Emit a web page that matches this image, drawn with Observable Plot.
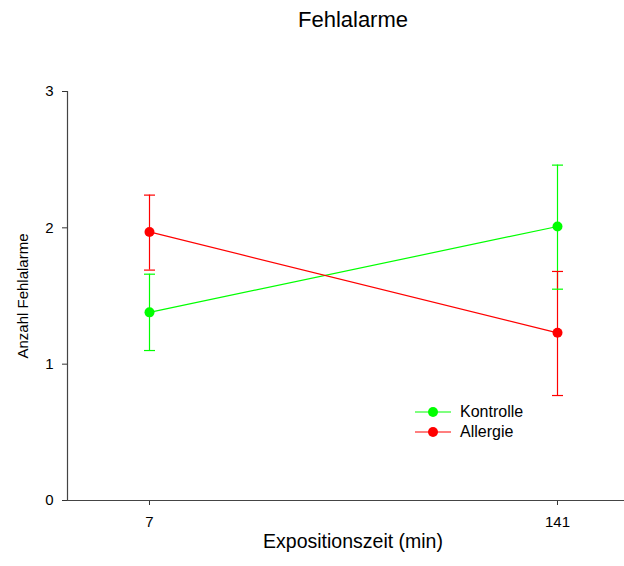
<!DOCTYPE html>
<html>
<head>
<meta charset="utf-8">
<script src="https://cdn.jsdelivr.net/npm/d3@7"></script>
<script src="https://cdn.jsdelivr.net/npm/@observablehq/plot@0.6"></script>
<style>
  html, body { margin: 0; padding: 0; background: #fff; overflow: hidden; }
  body { font-family: "Liberation Sans", Arial, sans-serif; }
  #wrap { position: relative; width: 624px; height: 566px; }
  #title { position: absolute; left: 0; width: 706px; top: 8px; text-align: center; font-size: 22px; line-height: 24px; color: #000; }
  #legend { position: absolute; left: 415px; top: 402px; font-size: 16px; color: #000; }
  #legend .row { display: flex; align-items: center; height: 20px; }
  #legend svg { margin-right: 8px; }
</style>
</head>
<body>
<div id="wrap">
  <div id="title">Fehlalarme</div>
  <div id="chart"></div>
  <div id="legend"></div>
</div>
<script>
const times = [7, 141];
const groups = ["Kontrolle", "Allergie"];
const colors = ["#00ff00", "#ff0000"];
const kontrolleMean = [1.38, 2.01];
const kontrolleLow = [1.10, 1.55];
const kontrolleHigh = [1.66, 2.46];
const allergieMean = [1.97, 1.23];
const allergieLow = [1.69, 0.77];
const allergieHigh = [2.24, 1.68];
const yTicks = [0, 1, 2, 3];

const data = [];
times.forEach((t, i) => {
  data.push({group: "Kontrolle", t, mean: kontrolleMean[i], lo: kontrolleLow[i], hi: kontrolleHigh[i]});
  data.push({group: "Allergie", t, mean: allergieMean[i], lo: allergieLow[i], hi: allergieHigh[i]});
});

const capSymbol = {
  draw(context, size) {
    context.moveTo(-5.5, 0);
    context.lineTo(5.5, 0);
  }
};

const chart = Plot.plot({
  width: 624,
  height: 566,
  marginLeft: 67,
  marginRight: 0,
  marginTop: 91,
  marginBottom: 66,
  style: {fontFamily: '"Liberation Sans", Arial, sans-serif', fontSize: "15px", color: "#000", background: "#fff"},
  x: {domain: [-19.931, 163.005]},
  y: {domain: [0, 3]},
  color: {domain: groups, range: colors},
  marks: [
    Plot.axisX({ticks: times, tickFormat: d => String(d), tickSize: 5, tickPadding: 11, stroke: "#333",
      label: "Expositionszeit (min)", labelAnchor: "center", labelArrow: "none", labelOffset: 47}),
    Plot.axisY({ticks: yTicks, tickFormat: d => String(d), tickSize: 5, tickPadding: 9, stroke: "#333",
      label: "Anzahl Fehlalarme", labelAnchor: "center", labelArrow: "none", labelOffset: 50}),
    Plot.ruleY([0], {stroke: "#444", strokeWidth: 1.2}),
    Plot.ruleX([-19.931], {y1: 0, y2: 3, stroke: "#444", strokeWidth: 1.2}),
    Plot.line(data, {x: "t", y: "mean", stroke: "group", z: "group", strokeWidth: 1.2}),
    Plot.ruleX(data, {x: "t", y1: "lo", y2: "hi", stroke: "group", strokeWidth: 1.2}),
    Plot.dot(data, {x: "t", y: "lo", stroke: "group", symbol: capSymbol, r: 5, strokeWidth: 1.2}),
    Plot.dot(data, {x: "t", y: "hi", stroke: "group", symbol: capSymbol, r: 5, strokeWidth: 1.2}),
    Plot.dot(data, {x: "t", y: "mean", fill: "group", r: 5, stroke: "none"})
  ]
});
document.getElementById("chart").appendChild(chart);

chart.querySelectorAll('[aria-label="x-axis tick label"], [aria-label="y-axis tick label"]').forEach(g => {
  g.setAttribute("font-size", "15px");
  g.querySelectorAll("text").forEach(t => t.setAttribute("font-size", "15px"));
});
chart.querySelectorAll('[aria-label="x-axis label"]').forEach(g => {
  g.setAttribute("font-size", "19.5px");
  g.querySelectorAll("text").forEach(t => { t.setAttribute("font-size", "19.5px"); t.setAttribute("dx", "7"); });
});
chart.querySelectorAll('[aria-label="y-axis label"]').forEach(g => {
  g.setAttribute("font-size", "15px");
  g.querySelectorAll("text").forEach(t => t.setAttribute("font-size", "15px"));
});

const legend = document.getElementById("legend");
groups.forEach((g, i) => {
  const row = document.createElement("div");
  row.className = "row";
  row.innerHTML = `<svg width="37" height="12"><line x1="0" x2="36" y1="6" y2="6" stroke="${colors[i]}" stroke-width="1.2"/><circle cx="18" cy="6" r="5" fill="${colors[i]}"/></svg><span>${g}</span>`;
  legend.appendChild(row);
});
</script>
</body>
</html>
